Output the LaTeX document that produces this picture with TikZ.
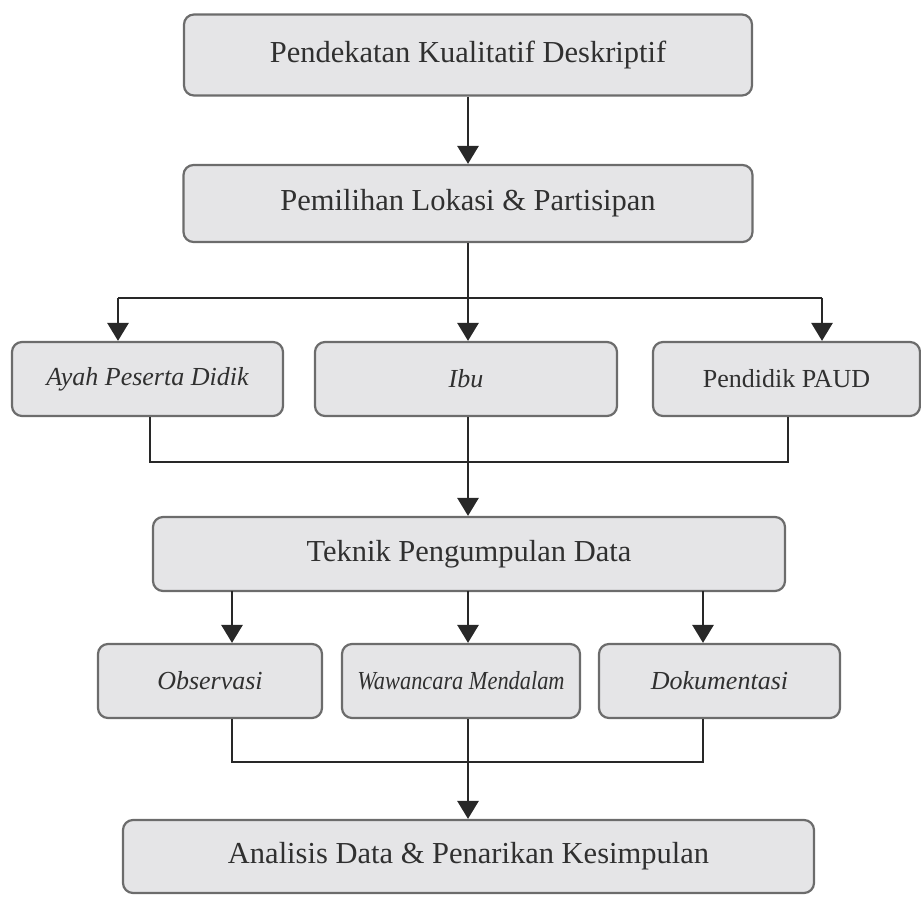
\documentclass[tikz,border=0pt]{standalone}
\usepackage{fontspec}
\setmainfont{Liberation Serif}
\usetikzlibrary{arrows.meta}
\definecolor{boxfill}{RGB}{229,229,231}
\definecolor{boxline}{RGB}{108,108,108}
\definecolor{txt}{RGB}{48,48,48}
\definecolor{conn}{RGB}{40,40,40}
\tikzset{
  box/.style={draw=boxline, line width=2.2pt, fill=boxfill, rounded corners=10pt,
    text=txt, inner sep=0pt, anchor=center},
  bigtxt/.style={font=\fontsize{30.5}{36}\selectfont},
  smalltxt/.style={font=\fontsize{26}{31}\selectfont},
  wire/.style={draw=conn, line width=2.8pt},
  arr/.style={wire, -{Triangle[width=21pt,length=18pt]}}
}
\begin{document}
\begin{tikzpicture}[x=1pt,y=-1pt]
\useasboundingbox (0,0) rectangle (921,901);
% boxes
\node[box,bigtxt,minimum width=568pt,minimum height=81pt] (b1) at (468,55) {Pendekatan Kualitatif Deskriptif};
\node[box,bigtxt,minimum width=569pt,minimum height=77pt] (b2) at (468,203.5) {Pemilihan Lokasi \& Partisipan};
\node[box,smalltxt,minimum width=271pt,minimum height=74pt] (ayah) at (147.5,379) {\itshape Ayah Peserta Didik};
\node[box,smalltxt,minimum width=302pt,minimum height=74pt] (ibu) at (466,379) {\itshape Ibu};
\node[box,smalltxt,minimum width=267pt,minimum height=74pt] (paud) at (786.5,379) {Pendidik PAUD};
\node[box,bigtxt,minimum width=632pt,minimum height=74pt] (tek) at (469,554) {Teknik Pengumpulan Data};
\node[box,smalltxt,minimum width=224pt,minimum height=74pt] (obs) at (210,681) {\itshape Observasi};
\node[box,smalltxt,minimum width=238pt,minimum height=74pt] (waw) at (461,681) {\scalebox{0.86}[1]{\itshape Wawancara Mendalam}};
\node[box,smalltxt,minimum width=241pt,minimum height=74pt] (dok) at (719.5,681) {\itshape Dokumentasi};
\node[box,bigtxt,minimum width=691pt,minimum height=73pt] (ana) at (468.5,856.5) {Analisis Data \& Penarikan Kesimpulan};
% junction coordinates
\coordinate (jt) at (468,298);
\coordinate (jl) at (118,298);
\coordinate (jr) at (822,298);
\coordinate (m1) at (468,462);
\coordinate (ml) at (150,462);
\coordinate (mr) at (788,462);
\coordinate (m2) at (468,762);
\coordinate (nl) at (232,762);
\coordinate (nr) at (703,762);
\coordinate (tl) at (232,591);
\coordinate (tc) at (468,591);
\coordinate (tr) at (703,591);
% connectors
\draw[arr] (b1.south -| jt) -- (b2.north -| jt);
\draw[wire] (b2.south -| jt) -- (jt);
\draw[wire] (jl) -- (jr);
\draw[arr] (jl) -- (jl |- ayah.north);
\draw[arr] (jt) -- (jt |- ibu.north);
\draw[arr] (jr) -- (jr |- paud.north);
\draw[wire] (ayah.south -| ml) -- (ml) -- (mr) -- (paud.south -| mr);
\draw[arr] (ibu.south -| m1) -- (tek.north -| m1);
\draw[arr] (tl) -- (tl |- obs.north);
\draw[arr] (tc) -- (tc |- waw.north);
\draw[arr] (tr) -- (tr |- dok.north);
\draw[wire] (obs.south -| nl) -- (nl) -- (nr) -- (dok.south -| nr);
\draw[arr] (waw.south -| m2) -- (ana.north -| m2);
\end{tikzpicture}
\end{document}
